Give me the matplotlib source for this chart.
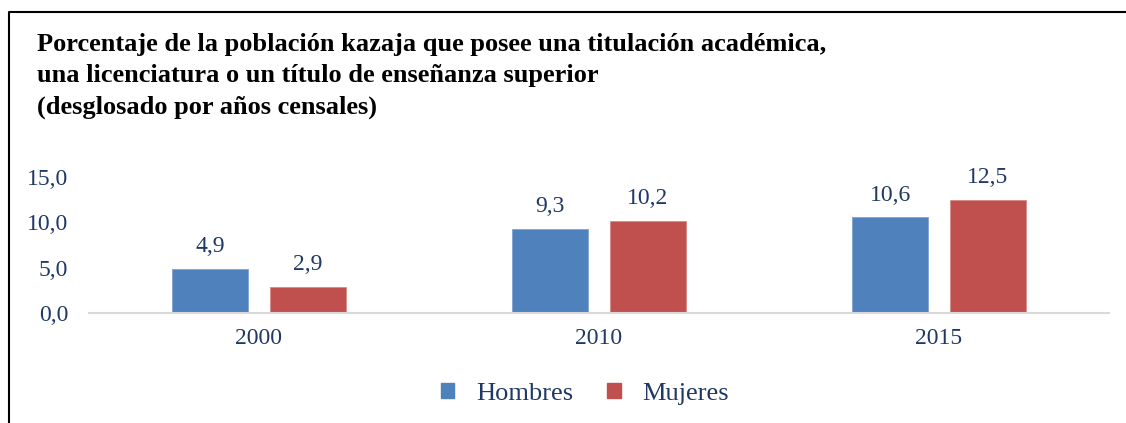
import matplotlib.pyplot as plt
import numpy as np
from matplotlib.lines import Line2D
from matplotlib.patches import Patch

years = ['2000', '2010', '2015']
hombres = [4.9, 9.3, 10.6]
mujeres = [2.9, 10.2, 12.5]
yticks = [0, 5, 10, 15]

navy = '#1F3864'
plt.rcParams['font.family'] = ['Liberation Serif', 'DejaVu Serif']

fig = plt.figure(figsize=(11.26, 4.23), dpi=100)
ax = fig.add_axes([89/1126, 1-313/423, 1020/1126, 136/423])

x = np.arange(len(years))
w = 0.224
off = 0.143
b1 = ax.bar(x - off, hombres, w, color='#4F81BD', edgecolor='#7FA3D0', linewidth=0.6, label='Hombres')
b2 = ax.bar(x + off, mujeres, w, color='#C0504D', edgecolor='#D88A88', linewidth=0.6, label='Mujeres')

for bars, vals in [(b1, hombres), (b2, mujeres)]:
    for r, v in zip(bars, vals):
        ax.text(r.get_x() + r.get_width()/2, v + 1.25, f'{v:.1f}'.replace('.', ','),
                ha='center', va='bottom', fontsize=17, color=navy, clip_on=False)

ax.set_xlim(-0.5, 2.5)
ax.set_ylim(0, 15)
ax.set_yticks(yticks)
ax.set_yticklabels([f'{t:.1f}'.replace('.', ',') for t in yticks])
ax.set_xticks(x)
ax.set_xticklabels(years)
ax.tick_params(axis='y', length=0, pad=15, labelsize=17, labelcolor=navy)
ax.tick_params(axis='x', length=0, pad=11, labelsize=17, labelcolor=navy)
for s in ['top', 'right', 'left']:
    ax.spines[s].set_visible(False)
ax.spines['bottom'].set_color('#D9D9D9')
ax.spines['bottom'].set_linewidth(1.5)

fig.text(37/1126, 1-33/423,
         'Porcentaje de la población kazaja que posee una titulación académica,\n'
         'una licenciatura o un título de enseñanza superior\n'
         '(desglosado por años censales)',
         ha='left', va='top', fontsize=19, fontweight='bold', color='black', linespacing=1.47)

handles = [Patch(color='#4F81BD', label='Hombres'), Patch(color='#C0504D', label='Mujeres')]
leg = fig.legend(handles=handles, loc='center', bbox_to_anchor=(585/1126, 1-394/423), ncol=2,
                 frameon=False, fontsize=19, handlelength=0.5, handleheight=0.5,
                 handletextpad=0.83, columnspacing=1.3)
for t in leg.get_texts():
    t.set_color(navy)

# outer frame
fig.add_artist(Line2D([9/1126, 9/1126, 1.0], [0, 1-12/423, 1-12/423], color='black', lw=1.5,
                      transform=fig.transFigure))

fig.savefig('out.png', dpi=100)
